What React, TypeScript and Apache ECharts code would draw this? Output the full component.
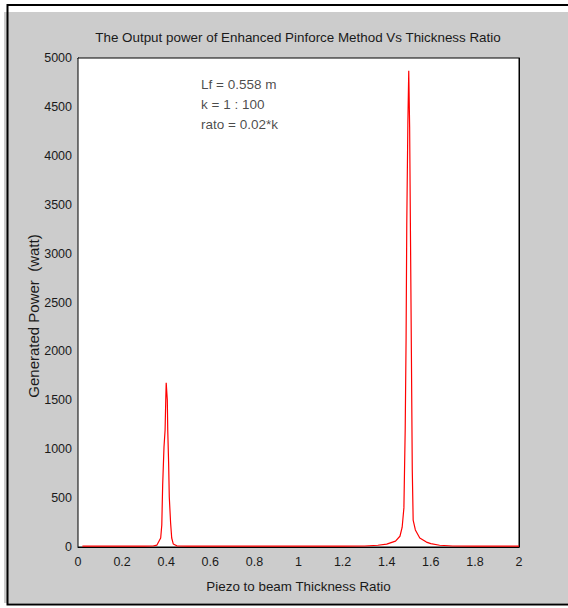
import React, { useEffect, useRef } from "react";
import * as echarts from "echarts";

const titleText = "The Output power of Enhanced Pinforce Method Vs Thickness Ratio";
const xAxisName = "Piezo to beam Thickness Ratio";
const yAxisName = "Generated Power  (watt)";
const annotationLines = ["Lf = 0.558 m", "k = 1 : 100", "rato = 0.02*k"];

const xValues = [
  0.02, 0.1, 0.2, 0.3, 0.34, 0.358, 0.375, 0.38, 0.384, 0.39, 0.395, 0.398, 0.4,
  0.402, 0.405, 0.407, 0.411, 0.414, 0.42, 0.425, 0.432, 0.448, 0.5, 0.6, 0.7, 0.8,
  0.9, 1.0, 1.1, 1.2, 1.3, 1.36, 1.4, 1.44, 1.46, 1.47, 1.478, 1.484, 1.488, 1.491,
  1.496, 1.5, 1.504, 1.508, 1.512, 1.516, 1.52, 1.53, 1.55, 1.58, 1.6, 1.64, 1.7,
  1.8, 1.9, 2.0,
];
const powerValues = [
  8, 8, 8, 8, 10, 20, 92, 225, 634, 1022, 1196, 1503, 1680,
  1677, 1503, 1196, 859, 511, 245, 92, 31, 12, 8, 8, 8, 8,
  8, 8, 8, 8, 10, 18, 30, 60, 110, 200, 400, 1217, 2147, 3292,
  4335, 4870, 4294, 3139, 1984, 787, 276, 174, 92, 50, 35, 18, 10,
  8, 8, 8,
];

const xMin = 0;
const xMax = 2;
const xInterval = 0.2;
const yMin = 0;
const yMax = 5000;
const yInterval = 500;

const annotationX = 0.558;
const annotationY = 4830;

export default function App() {
  const ref = useRef<HTMLDivElement>(null);
  useEffect(() => {
    if (!ref.current) return;
    const chart = echarts.init(ref.current, null, { renderer: "svg" });
    const font = "'Liberation Sans', Arial, Helvetica, sans-serif";
    const textColor = "#1a1a1a";
    const data = xValues.map((x, i) => [x, powerValues[i]]);
    const gridLeft = 78;
    const gridTop = 58;
    const gridW = 441;
    const gridH = 489;
    const fmt = (v: number) => String(Number(v.toFixed(2)));
    const baseX = {
      type: "value",
      min: xMin,
      max: xMax,
      interval: xInterval,
      splitLine: { show: false },
      axisLine: { show: true, onZero: false, lineStyle: { color: "#000", width: 1 } },
    };
    const baseY = {
      type: "value",
      min: yMin,
      max: yMax,
      interval: yInterval,
      splitLine: { show: false },
      axisLine: { show: true, onZero: false, lineStyle: { color: "#000", width: 1 } },
    };
    chart.setOption({
      animation: false,
      backgroundColor: "#ffffff",
      textStyle: { fontFamily: font },
      grid: {
        left: gridLeft,
        top: gridTop,
        width: gridW,
        height: gridH,
        show: true,
        backgroundColor: "#ffffff",
        borderColor: "#000",
        borderWidth: 1,
        z: 1,
      },
      xAxis: [
        {
          ...baseX,
          position: "bottom",
          name: xAxisName,
          nameLocation: "middle",
          nameGap: 33,
          nameTextStyle: { fontSize: 13.4, color: textColor, fontFamily: font },
          axisTick: { inside: true, length: 5, lineStyle: { color: "#000" } },
          axisLabel: { fontSize: 12.5, color: textColor, margin: 8, fontFamily: font, formatter: fmt },
        },
        {
          ...baseX,
          position: "top",
          axisTick: { inside: true, length: 5, lineStyle: { color: "#000" } },
          axisLabel: { show: false },
        },
      ],
      yAxis: [
        {
          ...baseY,
          position: "left",
          axisTick: { inside: true, length: 5, lineStyle: { color: "#000" } },
          axisLabel: { fontSize: 12.5, color: textColor, margin: 6, fontFamily: font, formatter: fmt },
        },
        {
          ...baseY,
          position: "right",
          axisTick: { inside: true, length: 5, lineStyle: { color: "#000" } },
          axisLabel: { show: false },
        },
      ],
      graphic: [
        {
          type: "rect",
          z: -10,
          silent: true,
          shape: { x: 4, y: 12, width: 564, height: 591 },
          style: { fill: "#cccccc" },
        },
        {
          type: "polyline",
          z: -9,
          silent: true,
          shape: { points: [[568, 5], [7.5, 5], [7.5, 604.5], [568, 604.5]] },
          style: { stroke: "#000", lineWidth: 2, fill: null },
        },
        {
          type: "text",
          x: 298,
          y: 37,
          style: {
            text: titleText,
            fill: textColor,
            font: `13.4px ${font}`,
            textAlign: "center",
            textVerticalAlign: "middle",
            align: "center",
            verticalAlign: "middle",
          },
        },
        {
          type: "text",
          x: 33,
          y: 316,
          rotation: Math.PI / 2,
          style: {
            text: yAxisName,
            fill: textColor,
            font: `15px ${font}`,
            textAlign: "center",
            textVerticalAlign: "middle",
            align: "center",
            verticalAlign: "middle",
          },
        },
      ],
      series: [
        {
          type: "line",
          data,
          showSymbol: false,
          symbol: "none",
          lineStyle: { color: "#ff0000", width: 1.2 },
          z: 5,
        },
        {
          type: "scatter",
          data: [[annotationX, annotationY]],
          symbolSize: 0,
          silent: true,
          label: {
            show: true,
            position: "right",
            distance: 0,
            formatter: annotationLines.join("\n"),
            fontSize: 13.5,
            lineHeight: 20,
            color: textColor,
            fontFamily: font,
            align: "left",
            verticalAlign: "top",
          },
          z: 6,
        },
      ],
    });
    return () => chart.dispose();
  }, []);
  return (
    <div
      ref={ref}
      style={{ position: "fixed", left: 0, top: 0, width: 568, height: 608 }}
    />
  );
}
